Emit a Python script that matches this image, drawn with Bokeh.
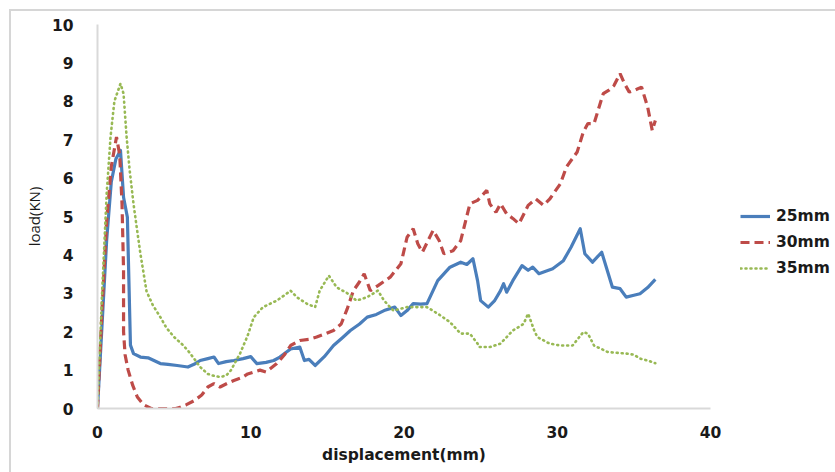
from bokeh.plotting import figure
from bokeh.models import Range1d, Legend, LegendItem, FixedTicker
from bokeh.embed import file_html
from bokeh.resources import INLINE

# ---- data ----
x25 = [0, 0.3, 0.6, 0.9, 1.2, 1.5, 1.7, 1.95, 2.15, 2.35, 2.8, 3.3, 4.1, 4.6, 5.2, 5.9, 6.3, 6.7, 7.2, 7.6, 7.9, 8.4, 8.9, 9.5, 10.0,
       10.4, 11.0, 11.5, 11.9, 12.6, 13.2, 13.5, 13.8, 14.2, 14.8, 15.4, 16.0, 16.5, 17.1, 17.6, 18.2, 18.7, 19.4, 19.8, 20.2,
       20.6, 21.1, 21.5, 22.2, 23.0, 23.7, 24.1, 24.5, 24.8, 25.0, 25.5, 25.9, 26.3, 26.5, 26.7, 27.1, 27.7, 28.1, 28.4,
       28.8, 29.7, 30.4, 30.9, 31.5, 31.8, 32.3, 32.9, 33.6, 34.1, 34.5, 35.0, 35.4, 35.9, 36.4]
y25 = [0, 2.2, 4.4, 5.9, 6.5, 6.72, 5.5, 4.98, 1.65, 1.43, 1.34, 1.32, 1.17, 1.15, 1.12, 1.08, 1.15, 1.25, 1.3, 1.34, 1.17, 1.22, 1.25, 1.3, 1.35,
       1.17, 1.2, 1.25, 1.34, 1.55, 1.6, 1.25, 1.28, 1.12, 1.35, 1.64, 1.85, 2.03, 2.2, 2.38, 2.45, 2.55, 2.64, 2.42, 2.55,
       2.73, 2.72, 2.73, 3.33, 3.68, 3.81, 3.75, 3.9, 3.33, 2.81, 2.64, 2.8, 3.07, 3.25, 3.03, 3.33, 3.72, 3.6, 3.68,
       3.51, 3.64, 3.85, 4.2, 4.68, 4.03, 3.81, 4.07, 3.16, 3.12, 2.9, 2.95, 2.99, 3.15, 3.36]

x30 = [0, 0.3, 0.6, 0.9, 1.24, 1.45, 1.6, 1.7, 1.7, 1.8, 2.0, 2.3, 2.6, 3.0, 3.5, 4.3, 5.1, 5.4, 5.8, 6.3, 6.8, 7.2, 7.6, 8.0, 8.5, 8.9, 9.4,
       9.8, 10.2, 10.6, 11.0, 11.7, 12.2, 12.6, 13.2, 13.8, 14.3, 14.9, 15.4, 15.9, 16.3, 16.7, 17.1, 17.4, 17.8, 18.3, 19.1,
       19.8, 20.2, 20.6, 20.9, 21.2, 21.6, 21.9, 22.3, 22.6, 23.2, 23.7, 24.3, 24.8, 25.4, 25.6, 26.0, 26.3, 26.7, 27.1, 27.5,
       28.1, 28.6, 29.1, 29.5, 29.9, 30.2, 30.6, 31.3, 31.7, 32.0, 32.4, 33.0, 33.4, 33.7, 34.1, 34.4, 34.7, 35.0, 35.5,
       35.9, 36.2, 36.4]
y30 = [0, 2.6, 4.9, 6.3, 7.07, 6.6, 5.33, 3.6, 2.0, 1.4, 1.0, 0.6, 0.3, 0.1, 0.0, 0.0, 0.0, 0.03, 0.1, 0.2, 0.35, 0.56, 0.65, 0.56, 0.66, 0.73, 0.8,
       0.9, 0.95, 1.0, 0.95, 1.17, 1.4, 1.64, 1.77, 1.8, 1.86, 1.95, 2.03, 2.2, 2.6, 3.07, 3.3, 3.51, 3.07, 3.2, 3.42,
       3.77, 4.46, 4.68, 4.29, 4.07, 4.4, 4.64, 4.37, 4.03, 4.11, 4.37, 5.33, 5.42, 5.68, 5.33, 5.11, 5.33, 5.07, 4.95, 4.81,
       5.29, 5.46, 5.29, 5.45, 5.68, 5.85, 6.29, 6.68, 7.2, 7.42, 7.42, 8.2, 8.3, 8.41, 8.72, 8.45, 8.24, 8.28, 8.37,
       7.85, 7.24, 7.5]

x35 = [0, 0.3, 0.6, 0.85, 1.1, 1.5, 1.7, 1.9, 2.1, 2.35, 2.6, 2.8, 3.2, 3.6, 4.1, 4.5, 5.0, 5.5, 5.9, 6.3, 6.7, 7.2, 7.6, 8.0, 8.4, 8.7, 9.3,
       9.8, 10.2, 10.8, 11.7, 12.2, 12.6, 13.0, 13.7, 14.2, 14.5, 15.1, 15.6, 16.3, 16.9, 17.6, 18.3, 18.7, 19.3, 20.2,
       20.9, 21.5, 22.2, 23.0, 23.7, 24.3, 24.8, 24.9, 25.6, 26.3, 26.7, 27.1, 27.8, 28.1, 28.5, 28.7, 29.5, 30.2, 31.0, 31.7,
       32.0, 32.4, 33.3, 33.9, 34.5, 35.0, 35.4, 35.9, 36.4]
y35 = [0, 3.0, 5.6, 7.07, 8.0, 8.46, 8.2, 7.07, 6.2, 5.33, 4.6, 4.03, 3.05, 2.7, 2.38, 2.1, 1.86, 1.68, 1.51, 1.3, 1.08, 0.9, 0.85, 0.82, 0.86, 0.99, 1.43,
       1.9, 2.38, 2.64, 2.81, 2.95, 3.07, 2.9, 2.72, 2.64, 3.07, 3.46, 3.16, 3.0, 2.81, 2.9, 3.07, 2.81, 2.55, 2.64,
       2.64, 2.64, 2.47, 2.25, 1.95, 1.95, 1.69, 1.6, 1.6, 1.69, 1.86, 2.03, 2.2, 2.47, 2.03, 1.86, 1.69, 1.64, 1.64, 1.99,
       1.95, 1.64, 1.47, 1.45, 1.43, 1.4, 1.3, 1.25, 1.18]

x_ticks = [0, 10, 20, 30, 40]
y_ticks = [0, 1, 2, 3, 4, 5, 6, 7, 8, 9, 10]
series_names = ["25mm", "30mm", "35mm"]

FONT = "DejaVu Sans"
FONT_Y = "Open Sans"
BORDER = "#d6d6d6"
TXT = "#1a1a1a"
FS = "15.5px"

p = figure(frame_width=613, frame_height=384, output_backend="svg", toolbar_location=None,
           x_range=Range1d(0, 40), y_range=Range1d(0, 10),
           min_border_left=97, min_border_right=0, min_border_top=24, min_border_bottom=64,
           styles={
               "background-color": "white",
               "background-image": f"linear-gradient({BORDER}, {BORDER}), linear-gradient({BORDER}, {BORDER})",
               "background-position": "9px 9px, 9px 9px",
               "background-size": "2px 100%, 100% 2px",
               "background-repeat": "no-repeat",
           })
p.outline_line_color = None
p.xgrid.visible = False
p.ygrid.visible = False
p.background_fill_color = "white"
p.border_fill_alpha = 0

for ax in (p.xaxis[0], p.yaxis[0]):
    ax.axis_line_color = "#d9d9d9"
    ax.axis_line_width = 2
    ax.major_tick_line_color = None
    ax.minor_tick_line_color = None
    ax.major_label_text_font = FONT
    ax.major_label_text_font_style = "bold"
    ax.major_label_text_font_size = FS
    ax.major_label_text_color = TXT
    ax.axis_label_text_color = TXT

p.xaxis.ticker = FixedTicker(ticks=x_ticks)
p.yaxis.ticker = FixedTicker(ticks=y_ticks)
p.xaxis.major_label_standoff = 11
p.yaxis.major_label_standoff = 18
p.xaxis.axis_label = "displacement(mm)"
p.xaxis.axis_label_text_font = FONT
p.xaxis.axis_label_text_font_style = "bold"
p.xaxis.axis_label_text_font_size = FS
p.xaxis.axis_label_standoff = 5
p.yaxis.axis_label = "load(KN)"
p.yaxis.axis_label_text_font = FONT_Y
p.yaxis.axis_label_text_font_style = "normal"
p.yaxis.axis_label_text_font_size = "15px"
p.yaxis.axis_label_standoff = 5

r25 = p.line(x25, y25, line_color="#4a7ebb", line_width=3.2, line_join="round")
r30 = p.line(x30, y30, line_color="#be4b48", line_width=3.2, line_dash="9 5")
r35 = p.line(x35, y35, line_color="#98b954", line_width=2.6, line_dash="1 4", line_cap="round")

legend = Legend(items=[LegendItem(label=series_names[0], renderers=[r25]),
                       LegendItem(label=series_names[1], renderers=[r30]),
                       LegendItem(label=series_names[2], renderers=[r35])],
                location=(30, 130), padding=0, margin=0, spacing=6,
                glyph_width=30, glyph_height=20, label_standoff=6,
                label_text_font=FONT, label_text_font_style="bold", label_text_font_size=FS,
                label_text_color=TXT, border_line_color=None, background_fill_alpha=0)
p.add_layout(legend, "right")

open("out.html", "w").write(file_html(p, INLINE))
